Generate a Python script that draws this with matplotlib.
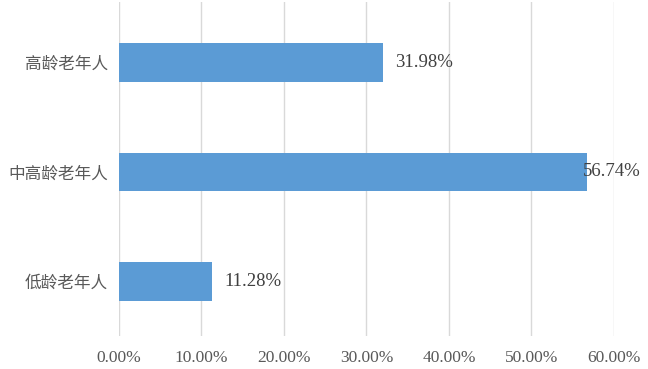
import matplotlib.pyplot as plt
from matplotlib.ticker import PercentFormatter

# categories from bottom to top
cats = ['低龄老年人', '中高龄老年人', '高龄老年人']
vals = [11.28, 56.74, 31.98]
xticks = [0, 10, 20, 30, 40, 50, 60]

plt.rcParams['font.family'] = ['Liberation Serif', 'Noto Sans CJK SC']

fig = plt.figure(figsize=(6.48, 3.69), dpi=100)
ax = fig.add_axes([0.1836, 0.089, 0.7639, 0.905])

bars = ax.barh(range(len(cats)), vals, height=0.35, color='#5B9BD5', zorder=3)

# data labels (middle one sits close to the bar end, as in the original)
offsets = [9, -3, 9]
for i, v in enumerate(vals):
    ax.annotate(f'{v:.2f}%', (v, i), xytext=(offsets[i], 0), textcoords='offset points',
                va='center', ha='left', fontsize=13.5, color='#404040', zorder=4)

ax.set_xlim(0, 60)
ax.set_ylim(-0.5, 2.55)
ax.set_xticks(xticks)
ax.xaxis.set_major_formatter(PercentFormatter(decimals=2))
ax.set_yticks(range(len(cats)))
ax.set_yticklabels(cats, family=['Noto Sans CJK SC'], fontsize=12)

ax.grid(axis='x', color='#d9d9d9', linewidth=1, zorder=0)
ax.tick_params(axis='both', length=0, colors='#595959')
ax.tick_params(axis='x', labelsize=12.5, pad=10)
ax.tick_params(axis='y', pad=8)
for s in ax.spines.values():
    s.set_visible(False)

fig.savefig('out.png', dpi=100)
